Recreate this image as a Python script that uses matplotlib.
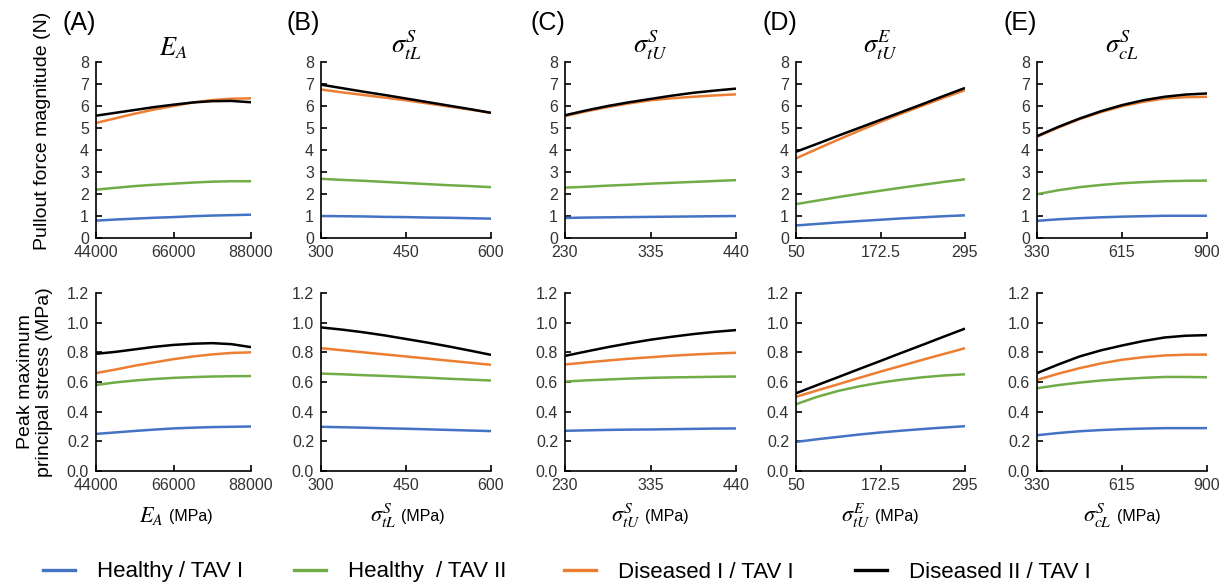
import numpy as np
import matplotlib
matplotlib.use('Agg')
import matplotlib.pyplot as plt
from matplotlib.lines import Line2D

plt.rcParams['font.family'] = ['Liberation Sans', 'DejaVu Sans']
plt.rcParams['mathtext.fontset'] = 'stix'

# parameter names, ranges and tick labels for the five columns
panel_tags = ['(A)', '(B)', '(C)', '(D)', '(E)']
param_names = [r'$E_A$', r'$\sigma^S_{tL}$', r'$\sigma^S_{tU}$', r'$\sigma^E_{tU}$', r'$\sigma^S_{cL}$']
x_ranges = [(44000, 88000), (300, 600), (230, 440), (50, 295), (330, 900)]
x_ticklabels = [['44000', '66000', '88000'], ['300', '450', '600'], ['230', '335', '440'],
                ['50', '172.5', '295'], ['330', '615', '900']]

series_names = ['Healthy / TAV I', 'Healthy  / TAV II', 'Diseased I / TAV I', 'Diseased II / TAV I']
series_colors = ['#4472C4', '#70AD47', '#ED7D31', '#000000']

# values read at every 1/8 of each parameter range
# pullout force magnitude (N): [panel][series]
force = [
    [[0.79, 0.84, 0.88, 0.92, 0.95, 0.99, 1.02, 1.04, 1.06],
     [2.20, 2.28, 2.36, 2.42, 2.47, 2.52, 2.56, 2.58, 2.58],
     [5.23, 5.44, 5.65, 5.84, 6.00, 6.16, 6.27, 6.33, 6.35],
     [5.56, 5.69, 5.82, 5.95, 6.06, 6.16, 6.22, 6.23, 6.17]],
    [[1.00, 0.99, 0.98, 0.96, 0.95, 0.93, 0.92, 0.90, 0.88],
     [2.69, 2.64, 2.60, 2.55, 2.50, 2.45, 2.40, 2.36, 2.31],
     [6.75, 6.62, 6.50, 6.38, 6.26, 6.12, 5.98, 5.84, 5.69],
     [6.97, 6.81, 6.65, 6.50, 6.34, 6.18, 6.02, 5.86, 5.69]],
    [[0.91, 0.93, 0.94, 0.95, 0.96, 0.97, 0.98, 0.99, 1.00],
     [2.29, 2.33, 2.38, 2.42, 2.47, 2.51, 2.55, 2.59, 2.63],
     [5.54, 5.76, 5.95, 6.12, 6.26, 6.35, 6.42, 6.48, 6.53],
     [5.58, 5.80, 6.00, 6.17, 6.32, 6.47, 6.60, 6.70, 6.79]],
    [[0.57, 0.64, 0.71, 0.77, 0.83, 0.89, 0.94, 0.99, 1.03],
     [1.54, 1.70, 1.86, 2.01, 2.15, 2.29, 2.42, 2.55, 2.67],
     [3.62, 4.05, 4.47, 4.88, 5.28, 5.66, 6.02, 6.38, 6.72],
     [3.92, 4.28, 4.65, 5.01, 5.37, 5.73, 6.09, 6.46, 6.82]],
    [[0.78, 0.85, 0.90, 0.94, 0.97, 0.99, 1.01, 1.01, 1.01],
     [1.99, 2.17, 2.31, 2.41, 2.49, 2.54, 2.58, 2.60, 2.61],
     [4.60, 5.02, 5.40, 5.72, 5.99, 6.19, 6.34, 6.40, 6.42],
     [4.63, 5.05, 5.43, 5.76, 6.04, 6.26, 6.42, 6.52, 6.57]],
]

# peak maximum principal stress (MPa)
stress = [
    [[0.250, 0.260, 0.270, 0.279, 0.287, 0.292, 0.296, 0.298, 0.300],
     [0.580, 0.597, 0.610, 0.620, 0.628, 0.633, 0.637, 0.639, 0.640],
     [0.660, 0.684, 0.710, 0.732, 0.754, 0.772, 0.786, 0.796, 0.800],
     [0.790, 0.803, 0.820, 0.837, 0.850, 0.858, 0.862, 0.855, 0.835]],
    [[0.298, 0.295, 0.292, 0.288, 0.285, 0.281, 0.277, 0.273, 0.269],
     [0.657, 0.652, 0.646, 0.641, 0.635, 0.629, 0.622, 0.616, 0.610],
     [0.828, 0.814, 0.800, 0.786, 0.772, 0.758, 0.744, 0.730, 0.716],
     [0.968, 0.953, 0.935, 0.914, 0.890, 0.866, 0.840, 0.812, 0.783]],
    [[0.271, 0.274, 0.277, 0.279, 0.280, 0.282, 0.284, 0.286, 0.287],
     [0.603, 0.611, 0.617, 0.623, 0.628, 0.631, 0.633, 0.635, 0.637],
     [0.718, 0.732, 0.745, 0.757, 0.767, 0.777, 0.785, 0.792, 0.797],
     [0.776, 0.806, 0.835, 0.861, 0.885, 0.905, 0.923, 0.938, 0.950]],
    [[0.196, 0.214, 0.230, 0.246, 0.260, 0.272, 0.283, 0.293, 0.302],
     [0.450, 0.500, 0.540, 0.571, 0.596, 0.616, 0.632, 0.644, 0.652],
     [0.500, 0.543, 0.585, 0.628, 0.670, 0.710, 0.750, 0.789, 0.828],
     [0.524, 0.579, 0.633, 0.688, 0.742, 0.797, 0.851, 0.906, 0.960]],
    [[0.241, 0.256, 0.268, 0.276, 0.282, 0.286, 0.289, 0.289, 0.289],
     [0.558, 0.579, 0.596, 0.610, 0.620, 0.628, 0.634, 0.634, 0.632],
     [0.614, 0.656, 0.693, 0.725, 0.750, 0.767, 0.779, 0.784, 0.785],
     [0.660, 0.718, 0.772, 0.813, 0.846, 0.876, 0.900, 0.912, 0.916]],
]

W, H = 1225, 584
fig = plt.figure(figsize=(W / 100, H / 100), dpi=100)

# axes pixel boxes (left, right)
col_px = [(96, 251), (321, 491), (565, 736), (796, 965), (1037, 1207)]
row_px = [(62, 238), (293, 471)]  # (top, bottom)


def px_axes(l, r, t, b):
    return fig.add_axes([l / W, 1 - b / H, (r - l) / W, (b - t) / H])


def style(ax):
    for s in ['top', 'right']:
        ax.spines[s].set_visible(False)
    for s in ['left', 'bottom']:
        ax.spines[s].set_linewidth(1.2)
    ax.tick_params(direction='in', length=4, width=1.2, labelsize=11.5,
                   labelcolor='#333333', pad=5)


for i in range(5):
    l, r = col_px[i]
    x0, x1 = x_ranges[i]
    xs = np.linspace(x0, x1, 9)
    xticks = [x0, (x0 + x1) / 2, x1]
    for row, data in enumerate([force, stress]):
        t, b = row_px[row]
        ax = px_axes(l, r, t, b)
        style(ax)
        for k in range(4):
            ax.plot(xs, data[i][k], color=series_colors[k], lw=1.8,
                    solid_capstyle='butt')
        ax.set_xlim(x0, x1)
        ax.set_xticks(xticks)
        ax.set_xticklabels(x_ticklabels[i])
        if row == 0:
            ax.set_ylim(0, 8)
            ax.set_yticks(range(0, 9))
            ax.set_title(param_names[i], fontsize=19, pad=5)
            fig.text((l - 34) / W, 1 - 23 / H, panel_tags[i], fontsize=18,
                     ha='left', va='center')
            if i == 0:
                ax.set_ylabel('Pullout force magnitude (N)', fontsize=14)
                ax.yaxis.set_label_coords(-0.29, 0.61)
        else:
            ax.set_ylim(0, 1.2)
            ax.set_yticks(np.arange(0, 1.21, 0.2))
            ax.set_yticklabels(['%.1f' % v for v in np.arange(0, 1.21, 0.2)])
            # x label: bigger math symbol followed by the unit
            ax.annotate(param_names[i], xy=(0.5, 0), xycoords='axes fraction',
                        xytext=(-10, -45), textcoords='offset pixels',
                        ha='right', va='center', fontsize=16)
            ax.annotate('(MPa)', xy=(0.5, 0), xycoords='axes fraction',
                        xytext=(-5, -46), textcoords='offset pixels',
                        ha='left', va='center', fontsize=11.5)
            if i == 0:
                ax.set_ylabel('Peak maximum\nprincipal stress (MPa)', fontsize=14,
                              linespacing=1.1)
                ax.yaxis.set_label_coords(-0.28, 0.5)

# legend entries spread along the bottom
leg_x = [43, 294, 564, 855]
for k in range(4):
    h = Line2D([], [], color=series_colors[k], lw=2.4)
    fig.legend(handles=[h], labels=[series_names[k]], loc='center left',
               bbox_to_anchor=(leg_x[k] / W, 1 - 572 / H), frameon=False,
               fontsize=16, handlelength=1.45, handletextpad=1.0,
               borderpad=0, borderaxespad=0)

fig.savefig('out.png', dpi=100)
